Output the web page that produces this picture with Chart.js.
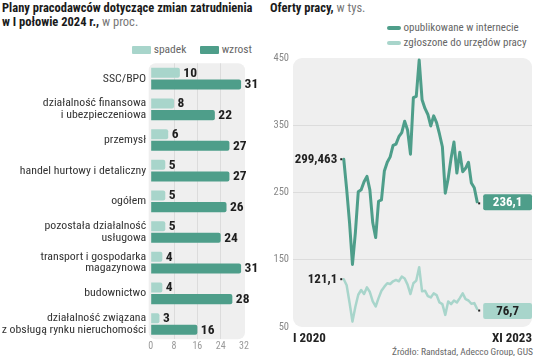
<!DOCTYPE html>
<html><head><meta charset="utf-8">
<script src="https://cdn.jsdelivr.net/npm/chart.js@4.4.0/dist/chart.umd.min.js"></script>
<style>
html,body{margin:0;padding:0;background:#fff;}
body{width:536px;height:356px;position:relative;overflow:hidden;font-family:"Liberation Sans Narrow","Roboto Condensed",Roboto,sans-serif;}
.abs{position:absolute;white-space:nowrap;}
.title{font-size:12.5px;font-weight:bold;color:#1a1a1a;line-height:14px;}
.g{font-weight:normal;color:#777;}
.leg{font-size:11.5px;color:#666;line-height:12px;}
.box{display:inline-block;width:19px;height:8px;vertical-align:middle;border-radius:1px;}
.sw{display:inline-block;width:14px;height:4px;vertical-align:middle;border-radius:2px;}
canvas{position:absolute;top:0;}
</style></head>
<body>
<div class="abs title" style="left:2px;top:1px;">Plany pracodawców dotyczące zmian zatrudnienia<br>w I połowie 2024 r., <span class="g">w proc.</span></div>
<div class="abs title" style="left:270px;top:1px;">Oferty pracy, <span class="g">w tys.</span></div>
<div class="abs leg" style="left:132px;top:43px;"><span class="box" style="background:#a8d5cb"></span> spadek</div>
<div class="abs leg" style="left:200px;top:43px;"><span class="box" style="background:#4e9e8a"></span> wzrost</div>
<div class="abs leg" style="left:387px;top:22px;font-size:11px;"><span class="sw" style="background:#4e9e8a"></span> opublikowane w internecie</div>
<div class="abs leg" style="left:387px;top:37px;font-size:11px;"><span class="sw" style="background:#a8d5cb"></span> zgłoszone do urzędów pracy</div>
<div class="abs" style="right:3px;top:346px;font-size:9.5px;color:#666;">Źródło: Randstad, Adecco Group, GUS</div>
<canvas id="left" width="270" height="356" style="left:0"></canvas>
<canvas id="right" width="266" height="356" style="left:270px"></canvas>
<script>
// ---- data: left chart ----
const categories = [
  'SSC/BPO',
  ['działalność finansowa','i ubezpieczeniowa'],
  'przemysł',
  'handel hurtowy i detaliczny',
  'ogółem',
  ['pozostała działalność','usługowa'],
  ['transport i gospodarka','magazynowa'],
  'budownictwo',
  ['działalność związana','z obsługą rynku nieruchomości']
];
const spadek = [10, 8, 6, 5, 5, 5, 4, 4, 3];
const wzrost = [31, 22, 27, 27, 26, 24, 31, 28, 16];
const barTicks = [0, 8, 16, 24, 32];

// ---- data: right chart (monthly, I 2020 - XI 2023) ----
const internet = [299.463, 255, 205, 143, 190, 251, 254, 266, 274, 254, 205, 183,
  237, 239, 282, 295, 303, 320, 322, 333, 339, 356, 343, 307,
  391, 393, 447, 388, 375, 366, 349, 364, 354, 337, 318, 249,
  271, 301, 325, 279, 310, 281, 286, 295, 264, 257, 236.1];
const urzedy = [121.1, 112, 86, 58, 80, 98, 105, 99, 109, 102, 88, 80.5,
  93, 104, 110, 115, 114, 118, 120, 118, 125, 122, 113, 99,
  115, 119, 139, 103, 104, 96, 94, 100, 97.5, 86.5, 84, 68,
  88, 84, 89.4, 86.4, 93, 100, 91.4, 89.4, 84.5, 85.5, 76.7];
const xTickLabels = ['I 2020', 'XI 2023'];
const yTicksRight = [50, 150, 250, 350, 450];
const startLabels = ['299,463', '121,1'];
const endLabels = ['236,1', '76,7'];

const FONT = '"Liberation Sans Narrow","Roboto Condensed",Roboto,sans-serif';
const DARK = '#4e9e8a', LIGHT = '#a8d5cb', BG = '#efefef';

function roundRect(ctx, x, y, w, h, r) {
  ctx.beginPath();
  ctx.moveTo(x + r, y);
  ctx.arcTo(x + w, y, x + w, y + h, r);
  ctx.arcTo(x + w, y + h, x, y + h, r);
  ctx.arcTo(x, y + h, x, y, r);
  ctx.arcTo(x, y, x + w, y, r);
  ctx.closePath();
}
const bgPlugin = {
  id: 'bgPanel',
  beforeDraw(chart, args, opts) {
    const a = chart.chartArea, ctx = chart.ctx;
    ctx.save();
    ctx.fillStyle = BG;
    roundRect(ctx, a.left - (opts.padL || 0), a.top - (opts.padT || 0),
      a.right - a.left + (opts.padL || 0) + (opts.padR || 0),
      a.bottom - a.top + (opts.padT || 0) + (opts.padB || 0), opts.r || 8);
    ctx.fill();
    ctx.restore();
  }
};
const barLabels = {
  id: 'barLabels',
  afterDatasetsDraw(chart) {
    const ctx = chart.ctx;
    ctx.save();
    ctx.font = 'bold 13.5px ' + FONT;
    ctx.fillStyle = '#1e1e1e';
    ctx.textAlign = 'left';
    ctx.textBaseline = 'middle';
    chart.data.datasets.forEach((ds, di) => {
      chart.getDatasetMeta(di).data.forEach((el, i) => {
        ctx.fillText(String(ds.data[i]), el.x + 3.5, el.y + 0.5);
      });
    });
    ctx.restore();
  }
};
const lineLabels = {
  id: 'lineLabels',
  afterDatasetsDraw(chart) {
    const ctx = chart.ctx, a = chart.chartArea;
    ctx.save();
    chart.data.datasets.forEach((ds, di) => {
      const pts = chart.getDatasetMeta(di).data;
      const p0 = pts[0], p1 = pts[pts.length - 1];
      ctx.fillStyle = '#222';
      ctx.fillRect(p0.x - 3.5, p0.y - 1, 2, 2);
      ctx.fillRect(p1.x + 1, p1.y + 0.5, 2, 2);
      ctx.font = 'bold 13px ' + FONT;
      ctx.textBaseline = 'middle';
      ctx.textAlign = 'right';
      ctx.fillText(startLabels[di], p0.x - 6.5, p0.y + 0.5);
      const bx = p1.x + 6, bw = a.right - bx, bh = 16;
      ctx.fillStyle = di === 0 ? DARK : LIGHT;
      roundRect(ctx, bx, p1.y - bh / 2 + (di === 0 ? 0.5 : 2), bw, bh, 2);
      ctx.fill();
      ctx.fillStyle = di === 0 ? '#fff' : '#222';
      ctx.textAlign = 'center';
      ctx.fillText(endLabels[di], bx + bw / 2, p1.y + (di === 0 ? 1 : 2.5));
    });
    ctx.restore();
  }
};

new Chart(document.getElementById('left'), {
  type: 'bar',
  data: {
    labels: categories,
    datasets: [
      { label: 'spadek', data: spadek, backgroundColor: LIGHT, borderRadius: 2, borderSkipped: 'start',
        barPercentage: 0.86, categoryPercentage: 0.76 },
      { label: 'wzrost', data: wzrost, backgroundColor: DARK, borderRadius: 2, borderSkipped: 'start',
        barPercentage: 0.86, categoryPercentage: 0.76 }
    ]
  },
  options: {
    indexAxis: 'y',
    responsive: false,
    animation: false,
    devicePixelRatio: 1,
    layout: { padding: { left: 0, right: 26, top: 63.3, bottom: 2.7 } },
    plugins: { legend: { display: false }, tooltip: { enabled: false }, bgPanel: { padL: 2, padR: 1, padT: 0, padB: 0, r: 7 } },
    scales: {
      x: {
        min: 0, max: 32,
        afterBuildTicks: (ax) => { ax.ticks = barTicks.map(v => ({ value: v })); },
        afterFit: (s) => { s.height = 14; },
        grid: { drawTicks: false, color: (c) => (c.tick && (c.tick.value === 0 || c.tick.value === 32)) ? 'rgba(0,0,0,0)' : '#dcdcdc', lineWidth: 1 },
        border: { display: false },
        ticks: { padding: 1, font: { family: FONT, size: 10 }, color: '#999', maxRotation: 0 }
      },
      y: {
        afterFit: (s) => { s.width = 150.7; },
        grid: { display: false, drawTicks: false },
        border: { display: false },
        ticks: { padding: 4.5, font: { family: FONT, size: 11.8, lineHeight: 1.0 }, color: '#333', autoSkip: false }
      }
    }
  },
  plugins: [bgPlugin, barLabels]
});

new Chart(document.getElementById('right'), {
  type: 'line',
  data: {
    datasets: [
      { label: 'opublikowane w internecie', data: internet.map((v, i) => ({ x: i, y: v })),
        borderColor: DARK, borderWidth: 3, pointRadius: 0, tension: 0, borderJoinStyle: 'round', borderCapStyle: 'round' },
      { label: 'zgłoszone do urzędów pracy', data: urzedy.map((v, i) => ({ x: i, y: v })),
        borderColor: LIGHT, borderWidth: 2.5, pointRadius: 0, tension: 0, borderJoinStyle: 'round', borderCapStyle: 'round' }
    ]
  },
  options: {
    responsive: false,
    animation: false,
    devicePixelRatio: 1,
    layout: { padding: { left: 0, right: 3, top: 58, bottom: 9 } },
    plugins: { legend: { display: false }, tooltip: { enabled: false }, bgPanel: { r: 9 } },
    scales: {
      x: {
        type: 'linear', min: -17.5, max: 64.9,
        afterBuildTicks: (ax) => { ax.ticks = [{ value: ax.min }, { value: ax.max }]; },
        afterFit: (s) => { s.height = 20; },
        grid: { display: false, drawTicks: false },
        border: { display: false },
        ticks: { align: 'inner', padding: 4, font: { family: FONT, size: 13, weight: 'bold' }, color: '#222',
          maxRotation: 0, autoSkip: false, callback: (v, i) => xTickLabels[i] }
      },
      y: {
        min: 50, max: 450,
        afterBuildTicks: (ax) => { ax.ticks = yTicksRight.map(v => ({ value: v })); },
        afterFit: (s) => { s.width = 23; },
        grid: { drawTicks: false, color: (c) => (c.tick && (c.tick.value === 50 || c.tick.value === 450)) ? 'rgba(0,0,0,0)' : '#dcdcdc' },
        border: { display: false },
        ticks: { padding: 4, font: { family: FONT, size: 10.5 }, color: '#888' }
      }
    }
  },
  plugins: [bgPlugin, lineLabels]
});
</script>
</body></html>
